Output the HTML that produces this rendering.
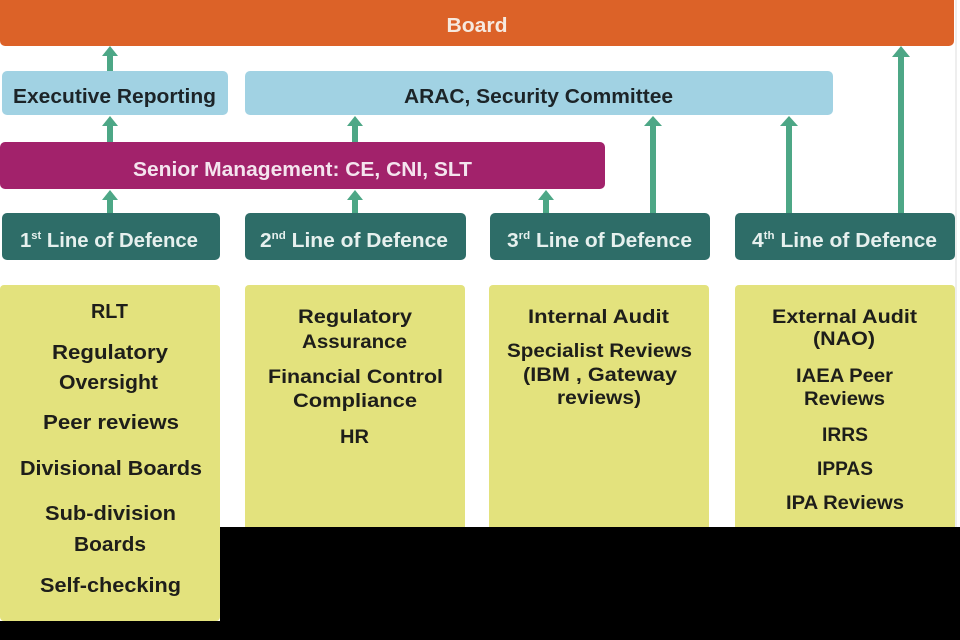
<!DOCTYPE html>
<html><head><meta charset="utf-8"><style>
html,body{margin:0;padding:0;background:#fff;}
svg{display:block;}
text{font-family:"Liberation Sans",Arial,sans-serif;font-weight:bold;}
</style></head><body>
<svg width="960" height="640" viewBox="0 0 960 640" xmlns="http://www.w3.org/2000/svg">
<rect width="960" height="640" fill="#fff"/>
<line x1="956" y1="0" x2="956" y2="527" stroke="#ddd" stroke-width="1"/>
<!-- Board -->
<rect x="0" y="-6" width="954" height="52" rx="5" fill="#DC6228"/>
<text x="477" y="32" font-size="20" fill="#F6E9DF" text-anchor="middle" textLength="61" lengthAdjust="spacingAndGlyphs">Board</text>
<!-- Executive / ARAC -->
<rect x="2" y="71" width="226" height="44" rx="5" fill="#A1D2E3"/>
<text x="114.5" y="103" font-size="20" fill="#1c2428" text-anchor="middle" textLength="203" lengthAdjust="spacingAndGlyphs">Executive Reporting</text>
<rect x="245" y="71" width="588" height="44" rx="5" fill="#A1D2E3"/>
<text x="538.5" y="103" font-size="20" fill="#1c2428" text-anchor="middle" textLength="269" lengthAdjust="spacingAndGlyphs">ARAC, Security Committee</text>
<!-- Senior Management -->
<rect x="0" y="142" width="605" height="47" rx="5" fill="#A2226B"/>
<text x="302.5" y="176" font-size="20" fill="#F4E4EE" text-anchor="middle" textLength="339" lengthAdjust="spacingAndGlyphs">Senior Management: CE, CNI, SLT</text>
<!-- Lines of defence -->
<g fill="#2E6D68">
<rect x="2" y="213" width="218" height="47" rx="5"/>
<rect x="245" y="213" width="221" height="47" rx="5"/>
<rect x="490" y="213" width="220" height="47" rx="5"/>
<rect x="735" y="213" width="220" height="47" rx="5"/>
</g>
<g fill="#E6F0EE" font-size="20">
<text x="109" y="247" text-anchor="middle" textLength="178" lengthAdjust="spacingAndGlyphs">1<tspan font-size="11" dy="-8">st</tspan><tspan dy="8"> Line of Defence</tspan></text>
<text x="354" y="247" text-anchor="middle" textLength="188" lengthAdjust="spacingAndGlyphs">2<tspan font-size="11" dy="-8">nd</tspan><tspan dy="8"> Line of Defence</tspan></text>
<text x="599.5" y="247" text-anchor="middle" textLength="185" lengthAdjust="spacingAndGlyphs">3<tspan font-size="11" dy="-8">rd</tspan><tspan dy="8"> Line of Defence</tspan></text>
<text x="844.5" y="247" text-anchor="middle" textLength="185" lengthAdjust="spacingAndGlyphs">4<tspan font-size="11" dy="-8">th</tspan><tspan dy="8"> Line of Defence</tspan></text>
</g>
<!-- Arrows -->
<g fill="#4DA786">
<!-- board <- exec -->
<rect x="107" y="54" width="6" height="17"/><polygon points="110,46 118,56 102,56"/>
<!-- exec <- senior -->
<rect x="107" y="124" width="6" height="18"/><polygon points="110,116 118,126 102,126"/>
<!-- senior <- 1st -->
<rect x="107" y="198" width="6" height="15"/><polygon points="110,190 118,200 102,200"/>
<!-- ARAC <- senior -->
<rect x="352" y="124" width="6" height="18"/><polygon points="355,116 363,126 347,126"/>
<!-- senior <- 2nd -->
<rect x="352" y="198" width="6" height="15"/><polygon points="355,190 363,200 347,200"/>
<!-- senior <- 3rd -->
<rect x="543" y="198" width="6" height="15"/><polygon points="546,190 554,200 538,200"/>
<!-- ARAC <- 3rd -->
<rect x="650" y="124" width="6" height="89"/><polygon points="653,116 662,126 644,126"/>
<!-- ARAC <- 4th -->
<rect x="786" y="124" width="6" height="89"/><polygon points="789,116 798,126 780,126"/>
<!-- Board <- 4th -->
<rect x="898" y="55" width="6" height="158"/><polygon points="901,46 910,57 892,57"/>
</g>
<!-- Yellow boxes -->
<g fill="#E3E27D">
<rect x="0" y="285" width="220" height="336" rx="4"/>
<rect x="245" y="285" width="220" height="250" rx="4"/>
<rect x="489" y="285" width="220" height="250" rx="4"/>
<rect x="735" y="285" width="220" height="250" rx="4"/>
</g>
<!-- Black region -->
<rect x="220" y="527" width="740" height="113" fill="#000"/>
<rect x="0" y="621" width="960" height="19" fill="#000"/>
<!-- Box texts -->
<g fill="#1e1e1a" font-size="20" text-anchor="middle">
<text x="109.5" y="318" textLength="37" lengthAdjust="spacingAndGlyphs">RLT</text>
<text x="110" y="359" textLength="116" lengthAdjust="spacingAndGlyphs">Regulatory</text>
<text x="108.5" y="389" textLength="99" lengthAdjust="spacingAndGlyphs">Oversight</text>
<text x="111" y="429" textLength="136" lengthAdjust="spacingAndGlyphs">Peer reviews</text>
<text x="111" y="475" textLength="182" lengthAdjust="spacingAndGlyphs">Divisional Boards</text>
<text x="110.5" y="520" textLength="131" lengthAdjust="spacingAndGlyphs">Sub-division</text>
<text x="110" y="551" textLength="72" lengthAdjust="spacingAndGlyphs">Boards</text>
<text x="110.5" y="592" textLength="141" lengthAdjust="spacingAndGlyphs">Self-checking</text>
</g>
<g fill="#1e1e1a" font-size="19" text-anchor="middle">
<text x="355" y="323" textLength="114" lengthAdjust="spacingAndGlyphs">Regulatory</text>
<text x="354.5" y="348" textLength="105" lengthAdjust="spacingAndGlyphs">Assurance</text>
<text x="355.5" y="383" textLength="175" lengthAdjust="spacingAndGlyphs">Financial Control</text>
<text x="355" y="407" textLength="124" lengthAdjust="spacingAndGlyphs">Compliance</text>
<text x="354.5" y="443" textLength="29" lengthAdjust="spacingAndGlyphs">HR</text>

<text x="598.5" y="323" textLength="141" lengthAdjust="spacingAndGlyphs">Internal Audit</text>
<text x="599.5" y="357" textLength="185" lengthAdjust="spacingAndGlyphs">Specialist Reviews</text>
<text x="600" y="381" textLength="154" lengthAdjust="spacingAndGlyphs">(IBM , Gateway</text>
<text x="599" y="404" textLength="84" lengthAdjust="spacingAndGlyphs">reviews)</text>

<text x="844.5" y="323" textLength="145" lengthAdjust="spacingAndGlyphs">External Audit</text>
<text x="844" y="345" textLength="62" lengthAdjust="spacingAndGlyphs">(NAO)</text>
<text x="844.5" y="382" textLength="97" lengthAdjust="spacingAndGlyphs">IAEA Peer</text>
<text x="844.5" y="405" textLength="81" lengthAdjust="spacingAndGlyphs">Reviews</text>
<text x="845" y="441" textLength="46" lengthAdjust="spacingAndGlyphs">IRRS</text>
<text x="845" y="475" textLength="56" lengthAdjust="spacingAndGlyphs">IPPAS</text>
<text x="845" y="509" textLength="118" lengthAdjust="spacingAndGlyphs">IPA Reviews</text>
</g>
</svg>
</body></html>
